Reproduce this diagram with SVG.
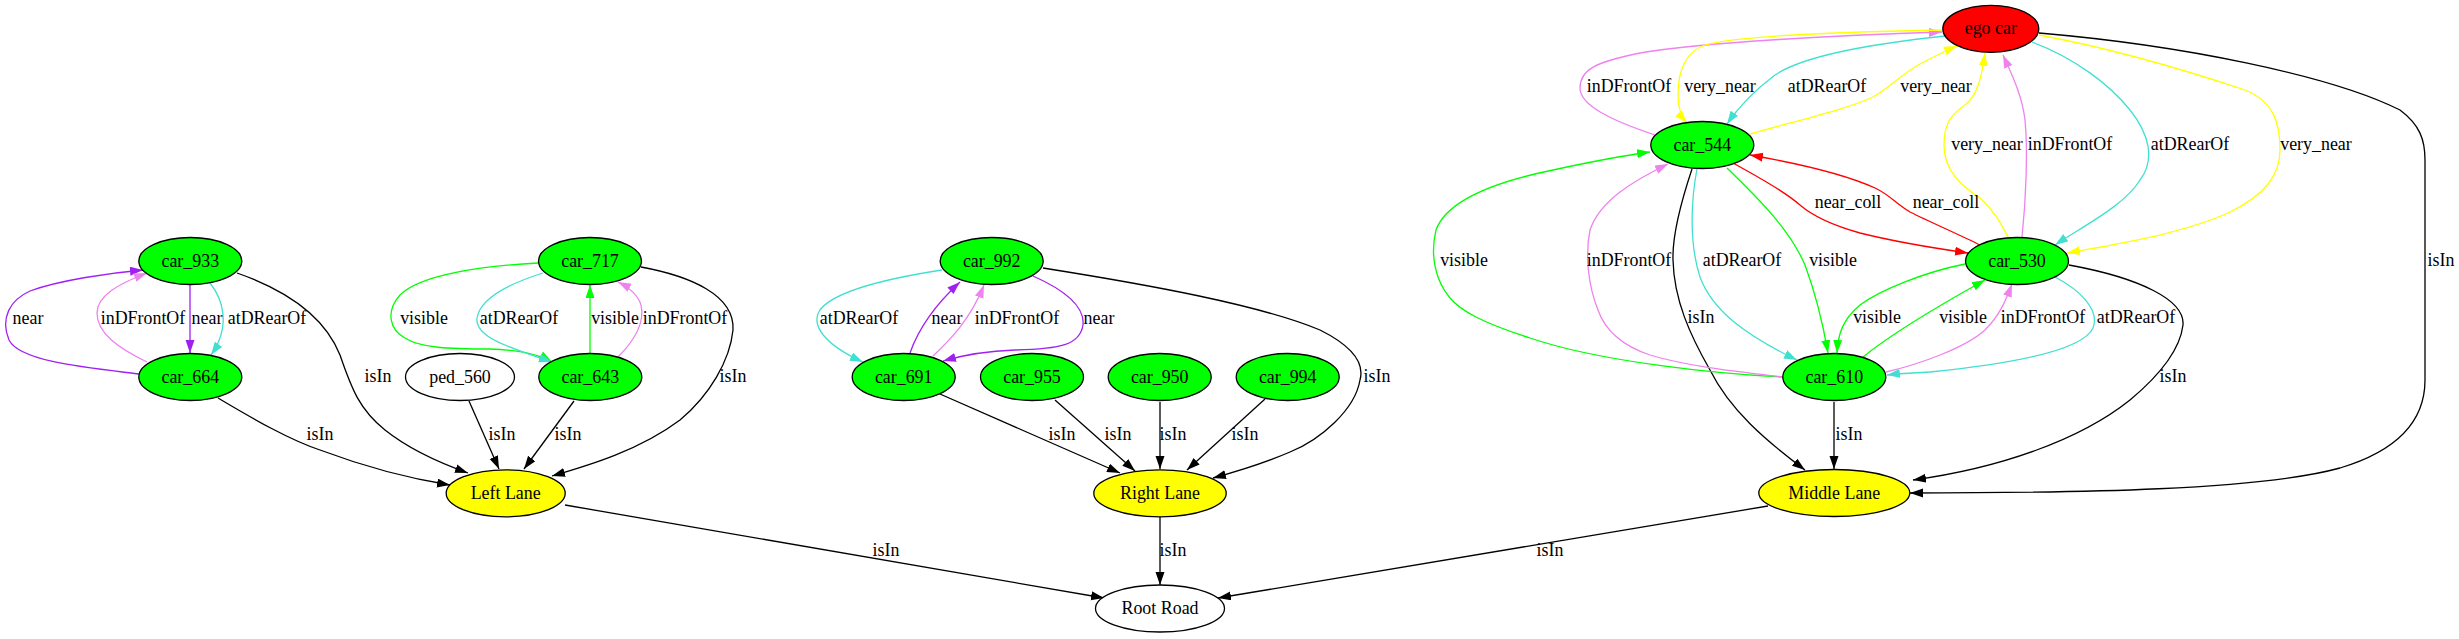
<svg xmlns="http://www.w3.org/2000/svg" width="2459" height="639" viewBox="0 0 2459 639">
<style>
text{font-family:"Liberation Serif","Times New Roman",serif;font-size:17.9px;text-anchor:middle;fill:#000}
.n ellipse{stroke:#000;stroke-width:1.3}
.g{fill:#00ff00}.y{fill:#ffff00}.w{fill:#fff}.r{fill:#ff0000}
#edges path{fill:none;stroke-width:1.3}
.k{stroke:#000;marker-end:url(#ak)}
.p{stroke:#a020f0;marker-end:url(#ap)}
.v{stroke:#ee82ee;marker-end:url(#av)}
.t{stroke:#40e0d0;marker-end:url(#at)}
.gr{stroke:#00ff00;marker-end:url(#ag)}
.ye{stroke:#ffff00;marker-end:url(#ay)}
.re{stroke:#ff0000;marker-end:url(#ar)}
</style>
<defs>
<marker id="ak" markerUnits="userSpaceOnUse" markerWidth="14" markerHeight="10" refX="13" refY="4.5" orient="auto"><path d="M0,0L13,4.5L0,9z" fill="#000"/></marker>
<marker id="ap" markerUnits="userSpaceOnUse" markerWidth="14" markerHeight="10" refX="13" refY="4.5" orient="auto"><path d="M0,0L13,4.5L0,9z" fill="#a020f0"/></marker>
<marker id="av" markerUnits="userSpaceOnUse" markerWidth="14" markerHeight="10" refX="13" refY="4.5" orient="auto"><path d="M0,0L13,4.5L0,9z" fill="#ee82ee"/></marker>
<marker id="at" markerUnits="userSpaceOnUse" markerWidth="14" markerHeight="10" refX="13" refY="4.5" orient="auto"><path d="M0,0L13,4.5L0,9z" fill="#40e0d0"/></marker>
<marker id="ag" markerUnits="userSpaceOnUse" markerWidth="14" markerHeight="10" refX="13" refY="4.5" orient="auto"><path d="M0,0L13,4.5L0,9z" fill="#00ff00"/></marker>
<marker id="ay" markerUnits="userSpaceOnUse" markerWidth="14" markerHeight="10" refX="13" refY="4.5" orient="auto"><path d="M0,0L13,4.5L0,9z" fill="#ffff00"/></marker>
<marker id="ar" markerUnits="userSpaceOnUse" markerWidth="14" markerHeight="10" refX="13" refY="4.5" orient="auto"><path d="M0,0L13,4.5L0,9z" fill="#ff0000"/></marker>
</defs>
<rect width="2459" height="639" fill="#fff"/>
<g id="edges">
<path class="p" d="M139,374 C90,368 20,362 9,340 C0,318 10,300 30,291 C60,280 110,273 143,270"/>
<path class="v" d="M147,362 C118,348 97,333 97,313 C97,296 118,284 147,273"/>
<path class="p" d="M190,285 L190,353"/>
<path class="t" d="M210,283 C222,298 232,325 211,355"/>
<path class="k" d="M237,273 C300,295 328,325 340,355 C352,390 360,410 385,430 C410,450 440,463 468,473"/>
<path class="k" d="M218,398 C255,420 290,440 320,450 C360,465 400,477 450,485"/>
<path class="k" d="M469,401 L499,469"/>
<path class="k" d="M574,401 L524,469"/>
<path class="k" d="M641,267 C690,276 735,295 733,330 C730,360 710,395 680,420 C640,450 590,465 552,476"/>
<path class="gr" d="M538,263 C480,266 420,275 400,295 C385,312 390,330 405,338 C420,348 450,349 490,349 C520,350 540,355 552,362"/>
<path class="t" d="M543,273 C505,285 480,300 477,318 C475,335 500,345 552,362"/>
<path class="gr" d="M590,353 L590,285"/>
<path class="v" d="M618,357 C635,340 645,322 641,305 C638,295 630,288 618,282"/>
<path class="t" d="M942,270 C890,278 835,290 820,310 C810,325 825,345 863,362"/>
<path class="p" d="M910,353 C918,330 935,305 960,282"/>
<path class="v" d="M933,356 C950,340 970,320 984,285"/>
<path class="p" d="M1033,276 C1060,288 1085,305 1083,325 C1080,345 1060,349 1015,350 C985,351 960,356 943,361"/>
<path class="k" d="M1043,268 C1150,285 1260,305 1320,330 C1350,345 1365,362 1360,380 C1355,410 1320,440 1290,452 C1260,465 1235,472 1213,478"/>
<path class="k" d="M940,394 L1120,473"/>
<path class="k" d="M1055,400 L1135,471"/>
<path class="k" d="M1160,402 L1160,469"/>
<path class="k" d="M1265,399 L1187,470"/>
<path class="k" d="M1160,517 L1160,585"/>
<path class="k" d="M565,505 L1104,598"/>
<path class="k" d="M1768,506 L1218,598"/>
<path class="v" d="M1655,135 C1610,120 1580,105 1580,88 C1580,70 1595,62 1640,53 C1700,42 1850,35 1942,32"/>
<path class="ye" d="M1942,30 C1850,32 1740,35 1705,45 C1685,52 1678,70 1678,95 C1678,105 1680,115 1687,123"/>
<path class="t" d="M1945,36 C1860,45 1800,58 1775,75 C1755,90 1740,105 1727,124"/>
<path class="ye" d="M1750,134 C1800,120 1850,108 1873,97 C1890,88 1900,75 1920,64 C1935,56 1945,51 1957,46"/>
<path class="ye" d="M2008,237 C2000,222 1995,212 1980,198 C1960,185 1944,170 1944,145 C1944,125 1950,115 1965,105 C1978,95 1982,75 1985,53"/>
<path class="v" d="M2022,237 C2026,200 2028,150 2025,120 C2022,95 2012,75 2003,55"/>
<path class="t" d="M2032,42 C2075,58 2110,85 2130,110 C2150,135 2155,160 2140,180 C2125,205 2085,225 2055,245"/>
<path class="ye" d="M2039,35 C2120,50 2200,75 2245,90 C2275,102 2280,125 2280,150 C2280,175 2265,195 2230,212 C2180,235 2110,245 2067,253"/>
<path class="k" d="M2039,33 C2180,45 2330,75 2400,110 C2420,125 2425,140 2425,160 L2425,380 C2425,420 2400,450 2340,468 C2260,490 2080,493 1910,493"/>
<path class="re" d="M1733,163 C1760,178 1785,192 1800,205 C1815,218 1835,226 1860,233 C1900,243 1940,249 1968,253"/>
<path class="re" d="M1980,245 C1960,235 1930,222 1910,212 C1895,203 1890,195 1875,188 C1840,172 1790,162 1750,155"/>
<path class="k" d="M1692,169 C1685,190 1672,230 1673,260 C1674,300 1690,335 1710,370 C1730,410 1765,440 1805,470"/>
<path class="t" d="M1697,169 C1692,195 1688,240 1700,277 C1712,310 1745,335 1797,360"/>
<path class="gr" d="M1727,168 C1760,200 1790,230 1805,265 C1818,300 1824,330 1828,353"/>
<path class="gr" d="M1783,377 C1720,374 1600,362 1530,338 C1480,322 1460,310 1450,298 C1435,280 1430,255 1436,230 C1445,205 1480,185 1553,170 C1590,162 1620,156 1650,152"/>
<path class="v" d="M1783,377 C1740,372 1690,367 1650,355 C1620,345 1605,330 1598,310 C1588,285 1585,255 1590,230 C1600,200 1635,180 1668,164"/>
<path class="gr" d="M1965,264 C1925,272 1880,290 1860,305 C1842,320 1838,335 1837,353"/>
<path class="gr" d="M1863,357 C1890,335 1940,305 1985,280"/>
<path class="v" d="M1886,372 C1920,364 1965,348 1985,330 C2000,315 2006,300 2012,284"/>
<path class="t" d="M2055,277 C2080,290 2100,310 2093,328 C2082,352 2000,365 1930,372 C1910,373 1895,374 1887,375"/>
<path class="k" d="M2069,265 C2140,278 2185,300 2183,325 C2180,350 2160,375 2130,400 C2080,440 2000,468 1913,480"/>
<path class="k" d="M1834,402 L1834,469"/>
<g id="edge-labels">
<text x="28" y="324">near</text>
<text x="143" y="324">inDFrontOf</text>
<text x="207" y="324">near</text>
<text x="267" y="324">atDRearOf</text>
<text x="378" y="382">isIn</text>
<text x="320" y="440">isIn</text>
<text x="424" y="324">visible</text>
<text x="519" y="324">atDRearOf</text>
<text x="615" y="324">visible</text>
<text x="685" y="324">inDFrontOf</text>
<text x="733" y="382">isIn</text>
<text x="502" y="440">isIn</text>
<text x="568" y="440">isIn</text>
<text x="886" y="556">isIn</text>
<text x="859" y="324">atDRearOf</text>
<text x="947" y="324">near</text>
<text x="1017" y="324">inDFrontOf</text>
<text x="1099" y="324">near</text>
<text x="1377" y="382">isIn</text>
<text x="1062" y="440">isIn</text>
<text x="1118" y="440">isIn</text>
<text x="1173" y="440">isIn</text>
<text x="1245" y="440">isIn</text>
<text x="1173" y="556">isIn</text>
<text x="1550" y="556">isIn</text>
<text x="1629" y="92">inDFrontOf</text>
<text x="1720" y="92">very_near</text>
<text x="1827" y="92">atDRearOf</text>
<text x="1936" y="92">very_near</text>
<text x="1987" y="150">very_near</text>
<text x="2070" y="150">inDFrontOf</text>
<text x="2190" y="150">atDRearOf</text>
<text x="2316" y="150">very_near</text>
<text x="1848" y="208">near_coll</text>
<text x="1946" y="208">near_coll</text>
<text x="2441" y="266">isIn</text>
<text x="1464" y="266">visible</text>
<text x="1629" y="266">inDFrontOf</text>
<text x="1742" y="266">atDRearOf</text>
<text x="1833" y="266">visible</text>
<text x="1701" y="323">isIn</text>
<text x="1877" y="323">visible</text>
<text x="1963" y="323">visible</text>
<text x="2043" y="323">inDFrontOf</text>
<text x="2136" y="323">atDRearOf</text>
<text x="2173" y="382">isIn</text>
<text x="1849" y="440">isIn</text>
</g>
</g>
<g id="car_933" class="n"><ellipse class="g" cx="190.3" cy="261" rx="51.5" ry="23.5"/><text x="190.3" y="266.5">car_933</text></g>
<g id="car_664" class="n"><ellipse class="g" cx="190.3" cy="377" rx="51.5" ry="23.5"/><text x="190.3" y="382.5">car_664</text></g>
<g id="car_717" class="n"><ellipse class="g" cx="590" cy="261" rx="51.5" ry="23.5"/><text x="590" y="266.5">car_717</text></g>
<g id="ped_560" class="n"><ellipse class="w" cx="460" cy="377" rx="54.5" ry="23.5"/><text x="460" y="382.5">ped_560</text></g>
<g id="car_643" class="n"><ellipse class="g" cx="590.3" cy="377" rx="51.5" ry="23.5"/><text x="590.3" y="382.5">car_643</text></g>
<g id="left_lane" class="n"><ellipse class="y" cx="505.7" cy="493.3" rx="59.5" ry="23.5"/><text x="505.7" y="498.8">Left Lane</text></g>
<g id="car_992" class="n"><ellipse class="g" cx="991.7" cy="261" rx="51.5" ry="23.5"/><text x="991.7" y="266.5">car_992</text></g>
<g id="car_691" class="n"><ellipse class="g" cx="903.7" cy="377" rx="51.5" ry="23.5"/><text x="903.7" y="382.5">car_691</text></g>
<g id="car_955" class="n"><ellipse class="g" cx="1032" cy="377" rx="51.5" ry="23.5"/><text x="1032" y="382.5">car_955</text></g>
<g id="car_950" class="n"><ellipse class="g" cx="1159.7" cy="377" rx="51.5" ry="23.5"/><text x="1159.7" y="382.5">car_950</text></g>
<g id="car_994" class="n"><ellipse class="g" cx="1287.7" cy="377" rx="51.5" ry="23.5"/><text x="1287.7" y="382.5">car_994</text></g>
<g id="right_lane" class="n"><ellipse class="y" cx="1160" cy="493.3" rx="66.2" ry="23.5"/><text x="1160" y="498.8">Right Lane</text></g>
<g id="root_road" class="n"><ellipse class="w" cx="1160" cy="608.5" rx="64.5" ry="23.5"/><text x="1160" y="614">Root Road</text></g>
<g id="ego_car" class="n"><ellipse class="r" cx="1990.8" cy="28.8" rx="48" ry="23.5"/><text x="1990.8" y="34.3">ego car</text></g>
<g id="car_544" class="n"><ellipse class="g" cx="1702.3" cy="145" rx="51.5" ry="23.5"/><text x="1702.3" y="150.5">car_544</text></g>
<g id="car_530" class="n"><ellipse class="g" cx="2017" cy="261" rx="51.5" ry="23.5"/><text x="2017" y="266.5">car_530</text></g>
<g id="car_610" class="n"><ellipse class="g" cx="1834.3" cy="377" rx="51.5" ry="23.5"/><text x="1834.3" y="382.5">car_610</text></g>
<g id="middle_lane" class="n"><ellipse class="y" cx="1834.3" cy="493" rx="75.5" ry="23.5"/><text x="1834.3" y="498.5">Middle Lane</text></g>
</svg>
